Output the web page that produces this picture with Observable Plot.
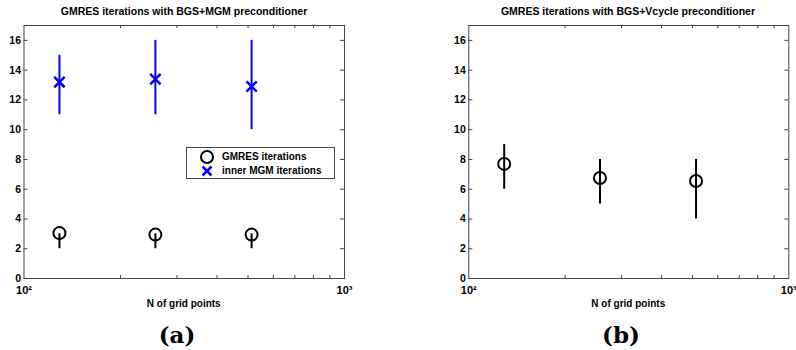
<!DOCTYPE html>
<html><head><meta charset="utf-8">
<script src="https://cdn.jsdelivr.net/npm/d3@7"></script>
<script src="https://cdn.jsdelivr.net/npm/@observablehq/plot@0.6"></script>
<style>
body{margin:0;background:#fff;width:796px;height:350px;position:relative;overflow:hidden;font-family:"Liberation Sans",Arial,sans-serif;color:#000;}
.panel{position:absolute;top:0;width:398px;height:350px;}
.title{position:absolute;top:5px;font-size:10.5px;font-weight:bold;white-space:nowrap;transform:translateX(-50%);line-height:13px;}
.xlabel{position:absolute;top:298px;font-size:10px;font-weight:bold;white-space:nowrap;transform:translateX(-50%);line-height:12px;}
.caption{position:absolute;top:321px;font-family:"DejaVu Serif","Liberation Serif",serif;font-size:23px;font-weight:bold;transform:translateX(-50%);line-height:28px;}
.plot{position:absolute;top:18px;left:0;}
.plot text{font-weight:bold;fill:#000;}
.legend{position:absolute;left:186px;top:147px;width:149px;height:32px;border:1px solid #444;background:#fff;font-size:10px;font-weight:bold;box-sizing:border-box;}
.legend .row{position:absolute;left:0;height:14px;line-height:14px;white-space:nowrap;}
.legend svg{position:absolute;left:12px;top:0;}
.legend span{position:absolute;left:35px;top:0;}
</style>
</head><body>
<div id="pa" class="panel" style="left:0"></div>
<div id="pb" class="panel" style="left:398px"></div>
<script>
// ---- data ----
const N = [129, 257, 513];
// panel (a): BGS+MGM preconditioner
const gmresA = [3.05, 2.95, 2.95];
const gmresALo = [2, 2, 2];
const gmresAHi = [3, 3, 3];
const mgmA = [13.2, 13.4, 12.9];
const mgmALo = [11, 11, 10];
const mgmAHi = [15, 16, 16];
// panel (b): BGS+Vcycle preconditioner
const gmresB = [7.7, 6.75, 6.55];
const gmresBLo = [6, 5, 4];
const gmresBHi = [9, 8, 8];
// axes
const yTicks = [0, 2, 4, 6, 8, 10, 12, 14, 16];
const xMajor = [100, 1000];
const xMinor = [200, 300, 400, 500, 600, 700, 800, 900];
const xLabels = {100: "10²", 1000: "10³"};
const titles = ["GMRES iterations with BGS+MGM preconditioner", "GMRES iterations with BGS+Vcycle preconditioner"];
const xTitle = "N of grid points";
const captions = ["(a)", "(b)"];
const legendLabels = ["GMRES iterations", "inner MGM iterations"];

const rows = (v, lo, hi) => N.map((n, i) => ({n, v: v[i], lo: lo[i], hi: hi[i]}));

function panel(el, {ml, mr, series, title, titleX, caption, captionX}) {
  const W = 398, H = 294, mt = 7, mb = 34;
  const pw = W - ml - mr, ph = H - mt - mb;
  const marks = [
    Plot.tickY(yTicks, {y: d => d, stroke: "#444", insetRight: pw - 4}),
    Plot.tickY(yTicks, {y: d => d, stroke: "#444", insetLeft: pw - 4}),
    Plot.tickX(xMinor, {x: d => d, stroke: "#444", insetTop: ph - 3}),
    Plot.tickX(xMinor, {x: d => d, stroke: "#444", insetBottom: ph - 3}),
    Plot.frame({stroke: "#444"}),
    Plot.axisY(yTicks, {tickSize: 0, tickPadding: 3, fontSize: 10.5, fontWeight: "bold", fill: "#000", label: null}),
    Plot.axisX(xMajor, {tickSize: 0, tickPadding: 8, fontSize: 11, fontWeight: "bold", fill: "#000", tickFormat: d => xLabels[d], label: null})
  ];
  for (const s of series) {
    marks.push(Plot.ruleX(s.data, {x: "n", y1: "lo", y2: "hi", stroke: s.color, strokeWidth: 2}));
    marks.push(Plot.dot(s.data, {x: "n", y: "v", symbol: s.symbol, r: s.r, stroke: s.color, strokeWidth: s.sw, fill: "none"}));
  }
  const svg = Plot.plot({
    width: W, height: H, marginLeft: ml, marginRight: mr, marginTop: mt, marginBottom: mb,
    x: {type: "log", domain: [100, 1000]},
    y: {domain: [0, 17]},
    style: {fontFamily: "'Liberation Sans', Arial, sans-serif", fontWeight: "bold", color: "#000", background: "transparent", overflow: "visible"},
    marks
  });
  svg.classList.add("plot");
  el.appendChild(svg);
  const t = document.createElement("div"); t.className = "title"; t.style.left = titleX + "px"; t.textContent = title; el.appendChild(t);
  const xl = document.createElement("div"); xl.className = "xlabel"; xl.style.left = (ml + pw / 2) + "px"; xl.textContent = xTitle; el.appendChild(xl);
  const c = document.createElement("div"); c.className = "caption"; c.style.left = captionX + "px"; c.textContent = caption; el.appendChild(c);
}

panel(document.getElementById("pa"), {
  ml: 23.5, mr: 54, title: titles[0], titleX: 184, caption: captions[0], captionX: 177,
  series: [
    {data: rows(mgmA, mgmALo, mgmAHi), color: "#0000ff", symbol: "times", r: 4.8, sw: 2.5},
    {data: rows(gmresA, gmresALo, gmresAHi), color: "#000", symbol: "circle", r: 6, sw: 2}
  ]
});
panel(document.getElementById("pb"), {
  ml: 70.3, mr: 7.7, title: titles[1], titleX: 230, caption: captions[1], captionX: 223,
  series: [
    {data: rows(gmresB, gmresBLo, gmresBHi), color: "#000", symbol: "circle", r: 6, sw: 2}
  ]
});

// legend for panel (a)
const lg = document.createElement("div"); lg.className = "legend";
const glyphs = [
  '<svg width="16" height="14"><circle cx="8" cy="7" r="6" fill="none" stroke="#000" stroke-width="2"/></svg>',
  '<svg width="16" height="14"><path d="M3.5,2.5L12.5,11.5M12.5,2.5L3.5,11.5" stroke="#0000ff" stroke-width="2.5"/></svg>'
];
legendLabels.forEach((lab, i) => {
  const r = document.createElement("div"); r.className = "row"; r.style.top = (2 + i * 14) + "px";
  r.innerHTML = glyphs[i] + "<span></span>";
  r.querySelector("span").textContent = lab;
  lg.appendChild(r);
});
document.getElementById("pa").appendChild(lg);
</script>
</body></html>
